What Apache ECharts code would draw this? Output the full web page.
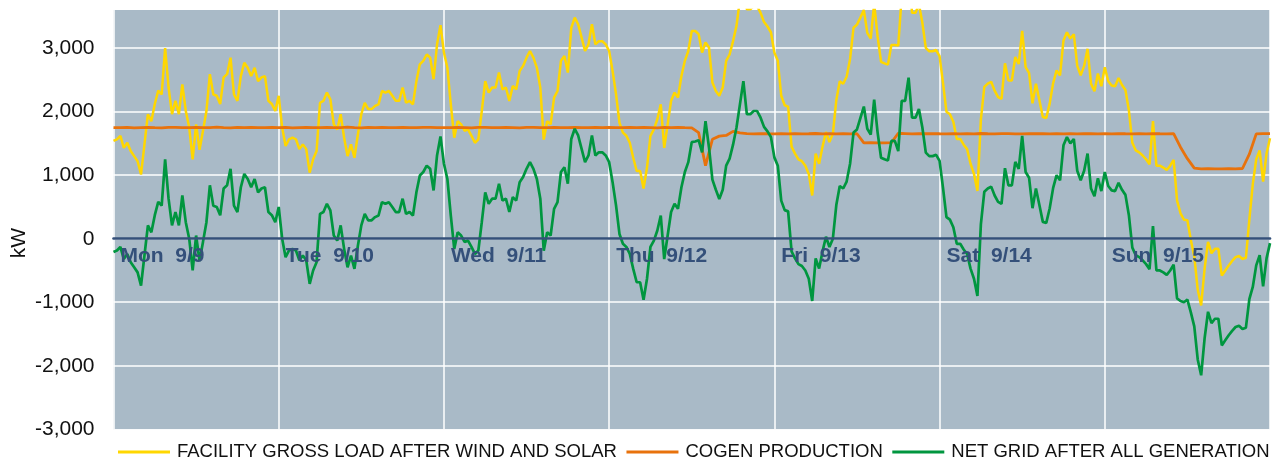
<!DOCTYPE html>
<html><head><meta charset="utf-8">
<script src="https://cdn.jsdelivr.net/npm/echarts@6/dist/echarts.min.js"></script>
<style>html,body{margin:0;padding:0;background:#fff}#c{width:1277px;height:460px}</style>
</head><body><div id="c"></div>
<script>
// Day labels on the zero axis (one per 24 h)
const dayLabels = ['Mon  9/9', 'Tue  9/10', 'Wed  9/11', 'Thu  9/12', 'Fri  9/13', 'Sat  9/14', 'Sun  9/15'];
const seriesNames = ['FACILITY GROSS LOAD AFTER WIND AND SOLAR', 'COGEN PRODUCTION', 'NET GRID AFTER ALL GENERATION'];

// Facility gross load after wind and solar, kW, half-hourly from Mon 0:00 to Sun 24:00
const grossLoad = [
  1540,1565,1620,1430,1510,1380,1300,1220,1010,1490,1960,1850,2120,2330,2270,3000,2380,1960,2170,1960,2430,2010,1750,1250,1800,1400,1700,2010,2590,2270,2250,2120,2540,2590,2850,2270,2170,2560,2770,2690,2560,2690,2480,2540,2560,2170,2120,2010,
  2250,1750,1460,1565,1590,1565,1410,1485,1410,1040,1250,1380,2140,2170,2300,2195,1800,1720,1960,1590,1300,1485,1275,1640,1960,2140,2040,2040,2090,2115,2325,2300,2325,2250,2170,2170,2380,2140,2170,2115,2480,2745,2800,2900,2850,2510,3060,3360,
  2930,2690,2115,1590,1850,1800,1700,1720,1620,1510,1565,2010,2480,2300,2380,2380,2615,2350,2380,2170,2405,2350,2640,2720,2850,2955,2850,2690,2380,1560,1850,1800,2220,2325,2800,2875,2615,3320,3480,3375,3165,2955,3060,3375,3060,3110,3110,3060,
  2955,2640,2275,1825,1670,1620,1510,1275,1065,1065,790,1120,1620,1720,1880,2115,1430,1800,2170,2300,2220,2560,2800,2955,3270,
  3270,3220,2930,3090,3010,2460,2325,2250,2380,2800,2900,3110,3350,3765,4130,3610,3610,3660,3660,3555,3410,3340,3250,
  2930,2800,2250,2100,2080,1450,1340,1250,1220,1150,1020,680,1340,1180,1450,1680,1520,1650,2180,2480,2440,2550,2830,3320,3370,3480,3600,3240,3150,3700,3180,2785,2760,2740,3050,3050,3040,3820,3820,4185,3555,3555,3690,3400,3005,2950,2950,2970,
  2875,2450,2000,1960,1840,1570,1570,1480,1410,1180,1020,750,1875,2390,2440,2470,2330,2230,2200,2760,2490,2490,2860,2750,3270,2700,2610,2130,2440,2180,1915,1900,2130,2450,2650,2570,3120,3250,3150,3220,2720,2570,2720,2990,2440,2320,2600,2400,
  2700,2480,2410,2400,2530,2420,2340,2020,1510,1390,1360,1310,1250,1170,1850,1150,1150,1120,1080,1150,1240,600,400,300,290,-20,-280,-800,-1050,-470,-50,-230,-160,-160,-580,-500,-420,-350,-290,-270,-320,-300,300,860,1250,1390,900,1340,1580
];

// Cogen production, kW, hourly from Mon 0:00 to Sun 24:00
const cogen = [
  1750,1748,1752,1746,1750,1754,1749,1745,1751,1753,1748,1750,1752,1747,1750,1755,1749,1746,1751,1750,1753,1748,1750,1752,
  1749,1751,1746,1750,1754,1750,1747,1752,1750,1748,1755,1750,1746,1751,1749,1753,1750,1747,1752,1750,1748,1751,1754,1750,
  1747,1750,1752,1749,1746,1751,1753,1750,1748,1752,1750,1746,1751,1754,1749,1750,1752,1748,1750,1753,1747,1750,1751,1749,
  1752,1750,1747,1751,1749,1753,1750,1746,1751,1750,1752,1748,1745,1670,1150,1565,1615,1625,1690,1665,1655,1650,1655,1652,
  1650,1654,1651,1655,1650,1652,1656,1650,1653,1651,1655,1650,1652,1510,1512,1508,1510,1512,1660,1655,1650,1654,1652,1655,
  1652,1650,1655,1651,1654,1650,1656,1652,1650,1653,1655,1651,1650,1654,1652,1655,1650,1653,1651,1655,1650,1652,1654,1651,
  1653,1650,1655,1652,1650,1654,1651,1655,1652,1650,1653,1440,1260,1110,1100,1102,1098,1100,1103,1100,1105,1330,1650,1655,1655
];

// Net grid after all generation, kW, half-hourly from Mon 0:00 to Sun 24:00
const netGrid = [
  -210,-185,-130,-320,-240,-370,-450,-530,-740,-260,210,100,370,580,520,1250,630,210,420,210,680,260,0,-500,50,-350,-50,260,840,520,500,370,790,840,1100,520,420,810,1020,940,810,940,730,790,810,420,370,260,
  500,0,-290,-185,-160,-185,-340,-265,-340,-710,-500,-370,390,420,550,445,50,-30,210,-160,-450,-265,-475,-110,210,390,290,290,340,365,575,550,575,500,420,420,630,390,420,365,730,995,1050,1150,1100,760,1310,1610,
  1180,940,365,-160,100,50,-50,-30,-130,-240,-185,260,730,550,630,630,865,600,630,420,655,600,890,970,1100,1205,1100,940,630,-190,100,50,470,575,1050,1125,865,1570,1730,1625,1415,1205,1310,1625,1310,1360,1360,1310,
  1205,890,525,75,-80,-130,-240,-475,-685,-685,-960,-630,-130,-30,130,365,-320,50,420,550,470,810,1050,1205,1520,
  1530,1550,1360,1850,1440,930,770,625,770,1150,1260,1480,1750,2115,2480,1960,1960,2010,2010,1905,1760,1690,1600,
  1280,1150,600,450,430,-200,-310,-400,-430,-500,-630,-980,-310,-470,-200,30,-130,0,530,830,790,900,1180,1670,1720,1900,2080,1730,1640,2190,1670,1275,1250,1230,1540,1540,1380,2170,2170,2535,1905,1905,2040,1750,1355,1300,1300,1320,
  1225,800,340,300,180,-80,-80,-170,-240,-470,-630,-900,225,740,790,820,680,580,550,1110,840,840,1210,1100,1620,1050,960,480,790,530,265,250,480,800,1000,920,1470,1600,1500,1570,1070,920,1070,1340,790,670,950,750,
  1050,830,760,750,880,770,690,370,-140,-260,-290,-340,-400,-480,200,-500,-500,-530,-570,-500,-410,-940,-980,-1000,-960,-1160,-1380,-1900,-2150,-1570,-1150,-1330,-1260,-1260,-1680,-1600,-1520,-1450,-1390,-1370,-1420,-1400,-950,-760,-420,-260,-750,-310,-70
];

const FONT = "'Liberation Sans', Arial, sans-serif";
const Y_MIN = -3000, Y_MAX = 3600;
const GRID_TOP = 10, GRID_BOTTOM = 30.7, H = 460;
// distance from plot bottom up to the zero value
const plotH = H - GRID_TOP - GRID_BOTTOM;
const zeroOffset = plotH * (0 - Y_MIN) / (Y_MAX - Y_MIN);

const chart = echarts.init(document.getElementById('c'), null, { renderer: 'canvas' });

chart.setOption({
  animation: false,
  backgroundColor: '#ffffff',
  textStyle: { fontFamily: FONT },
  grid: { left: 113.5, right: 7, top: GRID_TOP, bottom: GRID_BOTTOM, show: true, backgroundColor: '#A9BAC7', borderWidth: 0 },
  legend: {
    left: 113, top: 436, itemWidth: 52, itemHeight: 3, itemGap: 9.5, icon: 'rect',
    textStyle: { fontFamily: FONT, fontSize: 18.5, color: '#111', padding: [0, 0, 0, 2], lineHeight: 22 },
    data: seriesNames
  },
  graphic: [{
    type: 'text', x: 19.5, y: 243, rotation: Math.PI / 2,
    style: { text: 'kW', fontFamily: FONT, fontSize: 21, fill: '#111', align: 'center', verticalAlign: 'middle' }
  }],
  xAxis: [
    {
      type: 'value', min: 0, max: 168, interval: 24, position: 'bottom',
      axisLine: { show: false, onZero: false }, axisTick: { show: false }, axisLabel: { show: false },
      splitLine: { show: true, lineStyle: { color: '#ffffff', width: 1.5 } }
    },
    {
      type: 'value', min: 0, max: 168, interval: 24, position: 'bottom', offset: -zeroOffset, z: 5,
      axisLine: { show: true, onZero: false, lineStyle: { color: '#34507A', width: 2.6 } },
      axisTick: { show: false },
      splitLine: { show: false },
      axisLabel: {
        show: true, margin: 7, align: 'left', padding: [0, 0, 0, 7],
        fontFamily: FONT, fontSize: 21, fontWeight: 'bold', color: '#34507A',
        formatter: v => dayLabels[Math.round(v / 24)] || ''
      }
    }
  ],
  yAxis: {
    type: 'value', min: Y_MIN, max: Y_MAX, interval: 1000,
    axisLine: { show: false }, axisTick: { show: false },
    axisLabel: {
      margin: 19, fontFamily: FONT, fontSize: 21, color: '#111', showMaxLabel: false,
      formatter: v => (v % 1000 === 0 ? v.toLocaleString('en-US') : '')
    },
    splitLine: { show: true, showMaxLine: false, lineStyle: { color: '#ffffff', width: 1.5 } }
  },
  series: [
    {
      name: seriesNames[0], type: 'line', xAxisIndex: 0, showSymbol: false, clip: true,
      color: '#FFD700', lineStyle: { color: '#FFD700', width: 2.5 },
      data: grossLoad.map((v, i) => [i / 2, v])
    },
    {
      name: seriesNames[1], type: 'line', xAxisIndex: 0, showSymbol: false, clip: true,
      color: '#E8720C', lineStyle: { color: '#E8720C', width: 2.8 },
      data: cogen.map((v, i) => [i, v])
    },
    {
      name: seriesNames[2], type: 'line', xAxisIndex: 0, showSymbol: false, clip: true,
      color: '#00963F', lineStyle: { color: '#00963F', width: 2.7 },
      data: netGrid.map((v, i) => [i / 2, v])
    }
  ]
});
</script></body></html>
